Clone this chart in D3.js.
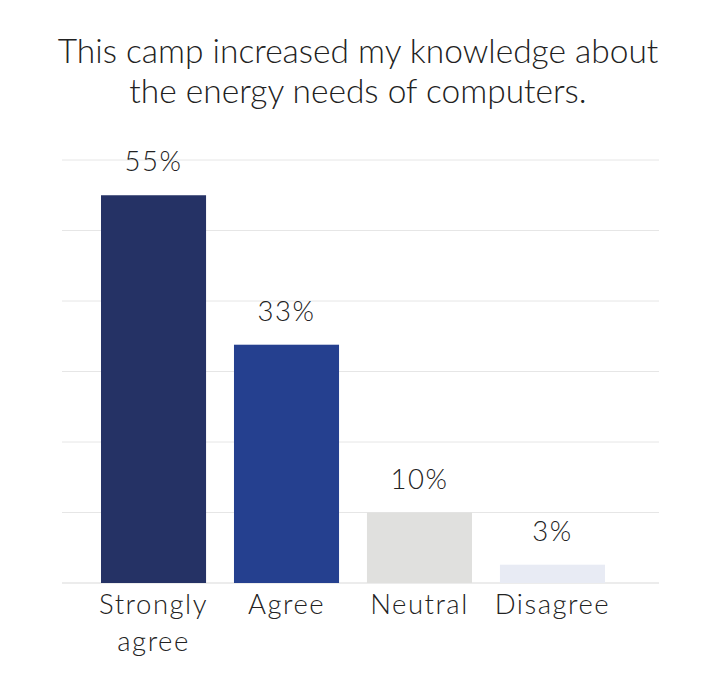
<!DOCTYPE html>
<html>
<head>
<meta charset="utf-8">
<script src="https://cdn.jsdelivr.net/npm/d3@7"></script>
<style>
  body { margin: 0; background: #fff; }
  text { font-family: Lato, "Open Sans", sans-serif; font-weight: 300; fill: #222; }
</style>
</head>
<body>
<script>
// survey answers
let categories = ['Strongly agree', 'Agree', 'Neutral', 'Disagree'];
let values = [55, 33.8, 10, 2.6];
let valueLabels = ['55%', '33%', '10%', '3%'];
let colors = ['#253265', '#25408f', '#e0e0de', '#e8ebf4'];
let gridTicks = [0, 10, 20, 30, 40, 50, 60];
let titleLines = ['This camp increased my knowledge about', 'the energy needs of computers.'];

let w = 721, h = 681;

let canvas = d3.select('body')
  .append('svg')
  .attr('width', w)
  .attr('height', h);

let x = d3.scaleBand()
  .domain(categories)
  .range([101, 605])
  .paddingInner(0.21)
  .paddingOuter(0);

let y = d3.scaleLinear()
  .domain([0, 60])
  .range([583, 160]);

// gridlines
canvas.append('g')
  .selectAll('line')
  .data(gridTicks)
  .enter()
  .append('line')
  .attr('x1', 62)
  .attr('x2', 659)
  .attr('y1', d => y(d))
  .attr('y2', d => y(d))
  .attr('stroke', d => d === 0 ? '#d9d9d9' : '#e6e6e6')
  .attr('stroke-width', 1);

// bars
canvas.append('g')
  .selectAll('rect')
  .data(values)
  .enter()
  .append('rect')
  .attr('x', (d, i) => x(categories[i]))
  .attr('y', d => y(d))
  .attr('width', x.bandwidth())
  .attr('height', d => y(0) - y(d))
  .attr('fill', (d, i) => colors[i]);

// value labels
canvas.append('g')
  .selectAll('text')
  .data(values)
  .enter()
  .append('text')
  .attr('x', (d, i) => x(categories[i]) + x.bandwidth() / 2)
  .attr('y', d => y(d) - 24)
  .attr('text-anchor', 'middle')
  .attr('font-size', 27.5)
  .attr('letter-spacing', 1.5)
  .text((d, i) => valueLabels[i]);

// category axis, wrapped on spaces when too wide
let xAxis = canvas.append('g')
  .attr('transform', 'translate(0,' + y(0) + ')')
  .call(d3.axisBottom(x).tickSize(0).tickPadding(0));
xAxis.select('.domain').remove();
xAxis.selectAll('.tick text')
  .attr('font-size', 27.5)
  .attr('letter-spacing', 1.5)
  .attr('font-family', null)
  .attr('fill', null)
  .each(function(d) {
    let t = d3.select(this);
    let words = d.split(' ');
    t.text(null).attr('y', 0).attr('dy', null);
    let lines = words.length > 1 && d.length > 10 ? words : [d];
    lines.forEach((word, k) => {
      t.append('tspan')
        .attr('x', 0)
        .attr('y', 31 + k * 37)
        .text(word);
    });
  });

// title
canvas.append('g')
  .selectAll('text')
  .data(titleLines)
  .enter()
  .append('text')
  .attr('x', 358)
  .attr('y', (d, i) => 63 + i * 40)
  .attr('text-anchor', 'middle')
  .attr('font-size', 33.5)
  .text(d => d);
</script>
</body>
</html>
